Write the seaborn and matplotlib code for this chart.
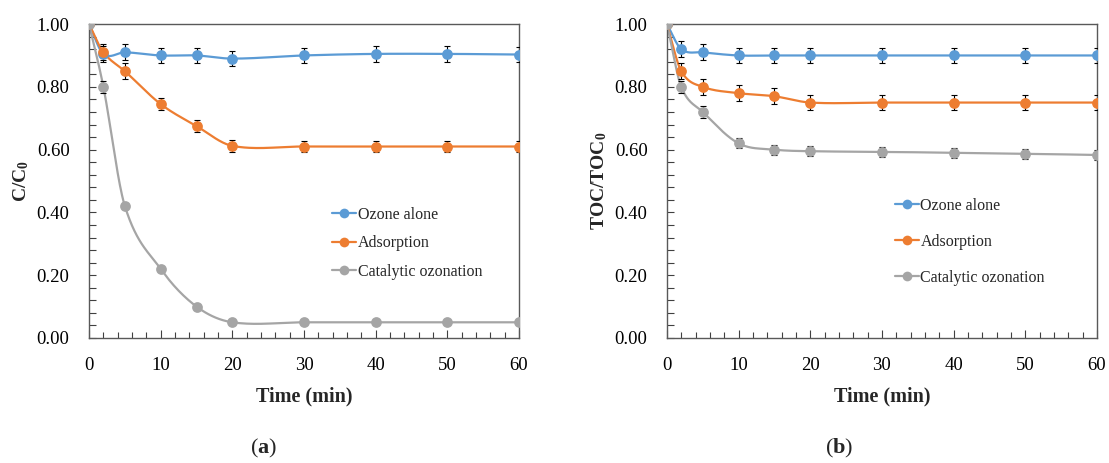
import numpy as np
import pandas as pd
import matplotlib
matplotlib.use("Agg")
import matplotlib.pyplot as plt
import seaborn as sns
from matplotlib.ticker import MultipleLocator, FormatStrFormatter
from matplotlib.lines import Line2D

# ---------------- data ----------------
time = [0, 2, 5, 10, 15, 20, 30, 40, 50, 60]
series_names = ["Ozone alone", "Adsorption", "Catalytic ozonation"]

a_ozone = [1.00, 0.905, 0.91, 0.90, 0.90, 0.89, 0.90, 0.905, 0.905, 0.903]
a_ozone_err = [0.0, 0.025, 0.025, 0.025, 0.025, 0.025, 0.025, 0.025, 0.025, 0.025]
a_ads = [1.00, 0.91, 0.85, 0.745, 0.675, 0.612, 0.61, 0.61, 0.61, 0.61]
a_ads_err = [0.0, 0.025, 0.025, 0.02, 0.018, 0.018, 0.017, 0.017, 0.017, 0.017]
a_cat = [1.00, 0.80, 0.42, 0.22, 0.10, 0.05, 0.05, 0.05, 0.05, 0.05]
a_cat_err = [0.0, 0.02, 0.005, 0.005, 0.004, 0.003, 0.003, 0.003, 0.003, 0.003]

b_ozone = [1.00, 0.92, 0.91, 0.90, 0.90, 0.90, 0.90, 0.90, 0.90, 0.90]
b_ozone_err = [0.0, 0.025, 0.025, 0.025, 0.025, 0.025, 0.025, 0.025, 0.025, 0.025]
b_ads = [1.00, 0.85, 0.80, 0.78, 0.77, 0.75, 0.75, 0.75, 0.75, 0.75]
b_ads_err = [0.0, 0.025, 0.025, 0.025, 0.025, 0.025, 0.025, 0.025, 0.025, 0.025]
b_cat = [1.00, 0.80, 0.72, 0.62, 0.60, 0.595, 0.593, 0.59, 0.587, 0.583]
b_cat_err = [0.0, 0.02, 0.018, 0.016, 0.016, 0.016, 0.016, 0.016, 0.016, 0.016]

colors = ["#5B9BD5", "#ED7D31", "#A5A5A5"]

# ---------------- style ----------------
sns.set_theme(style="white")
plt.rcParams["font.family"] = ["Liberation Serif", "DejaVu Serif"]
plt.rcParams["mathtext.fontset"] = "custom"
plt.rcParams["mathtext.rm"] = "Liberation Serif"
plt.rcParams["mathtext.bf"] = "Liberation Serif:bold"
plt.rcParams["mathtext.it"] = "Liberation Serif:italic"


def smooth(x, y, n=30):
    """Hermite (Catmull-Rom like) smoothing used only to draw the connecting line."""
    x = np.asarray(x, float)
    y = np.asarray(y, float)
    P = np.column_stack([x, y])
    P = np.vstack([P[0] - (P[1] - P[0]), P, P[-1] + (P[-1] - P[-2])])
    out = []
    t = np.linspace(0, 1, n, endpoint=False)
    for i in range(1, len(P) - 2):
        p0, p1, p2, p3 = P[i - 1], P[i], P[i + 1], P[i + 2]
        h = p2[0] - p1[0]
        m1 = (p2 - p0) / (p2[0] - p0[0]) * h
        m2 = (p3 - p1) / (p3[0] - p1[0]) * h
        h00 = 2 * t**3 - 3 * t**2 + 1
        h10 = t**3 - 2 * t**2 + t
        h01 = -2 * t**3 + 3 * t**2
        h11 = t**3 - t**2
        seg = (h00[:, None] * p1 + h10[:, None] * m1 + h01[:, None] * p2 + h11[:, None] * m2)
        out.append(seg)
    out.append(P[-2][None, :])
    out = np.vstack(out)
    return out[:, 0], out[:, 1]


fig = plt.figure(figsize=(11.09, 4.63), dpi=100)
ax_a = fig.add_axes([0.0803, 0.270, 0.3877, 0.678])
ax_b = fig.add_axes([0.6014, 0.270, 0.3877, 0.678])

panels = [
    (ax_a, [a_ozone, a_ads, a_cat], [a_ozone_err, a_ads_err, a_cat_err],
     r"$\mathbf{C/C_0}$", (0.565, 0.418), 0.78),
    (ax_b, [b_ozone, b_ads, b_cat], [b_ozone_err, b_ads_err, b_cat_err],
     r"$\mathbf{TOC/TOC_0}$", (0.53, 0.447), 1.25),
]

spine_col = "#595959"

for ax, vals, errs, ylab, leg_pos, leg_space in panels:
    for name, v, e, c in zip(series_names, vals, errs, colors):
        sx, sy = smooth(time, v)
        sns.lineplot(x=sx, y=sy, ax=ax, color=c, lw=1.6, sort=False,
                     estimator=None, zorder=2)
        ax.errorbar(time, v, yerr=e, fmt="none", ecolor="black",
                    elinewidth=0.8, capsize=2.2, capthick=0.8, zorder=3)
        sns.scatterplot(x=time, y=v, ax=ax, color=c, s=60, edgecolor=c,
                        linewidth=0, zorder=4)
    ax.set_xlim(0, 60)
    ax.set_ylim(0, 1.0)
    ax.xaxis.set_major_locator(MultipleLocator(10))
    ax.xaxis.set_minor_locator(MultipleLocator(2))
    ax.yaxis.set_major_locator(MultipleLocator(0.2))
    ax.yaxis.set_minor_locator(MultipleLocator(0.04))
    ax.yaxis.set_major_formatter(FormatStrFormatter("%.2f"))
    ax.tick_params(axis="both", which="both", direction="in", colors="#404040",
                   labelcolor="black", labelsize=13.5, width=0.8,
                   bottom=True, left=True, top=False, right=False)
    ax.tick_params(axis="x", which="major", length=6, pad=14)
    ax.tick_params(axis="x", which="minor", length=4)
    ax.tick_params(axis="y", which="major", length=5, pad=14)
    ax.tick_params(axis="y", which="minor", length=5)
    for s in ax.spines.values():
        s.set_color(spine_col)
        s.set_linewidth(1.0)
    ax.set_xlabel("Time (min)", fontsize=14.5, fontweight="bold", labelpad=9)
    ax.set_ylabel(ylab, fontsize=14, labelpad=4)

    handles = [Line2D([0], [0], color=c, lw=1.6, marker="o", markersize=7,
                      markeredgewidth=0) for c in colors]
    ax.legend(handles, series_names, loc="upper left",
              bbox_to_anchor=leg_pos, frameon=False,
              fontsize=11.5, handlelength=1.5, handletextpad=0.1,
              labelspacing=leg_space, borderaxespad=0, borderpad=0)

fig.text(0.238, 0.02, r"($\mathbf{a}$)", ha="center", fontsize=16)
fig.text(0.757, 0.02, r"($\mathbf{b}$)", ha="center", fontsize=16)

fig.savefig("out.png", dpi=100)
